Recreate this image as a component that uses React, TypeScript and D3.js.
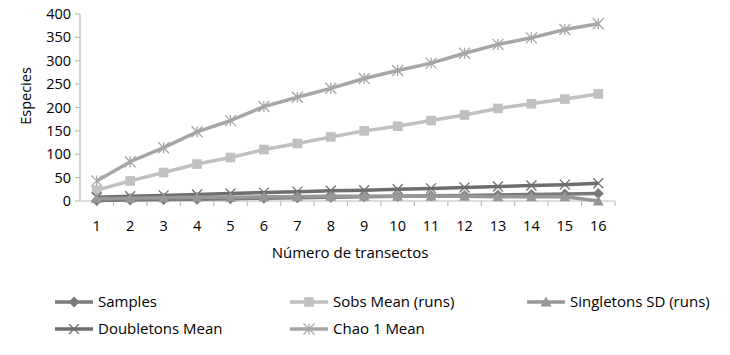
import React from "react";
import * as d3 from "d3";

const categories = ["1","2","3","4","5","6","7","8","9","10","11","12","13","14","15","16"];
const samples = [1,2,3,4,5,6,7,8,9,10,11,12,13,14,15,16];
const sobsMean = [23,43,61,79,93,110,123,137,150,160,172,184,198,208,218,229];
const singletonsSD = [5,6,7,8,8,9,9,10,10,10,10,10,9,9,9,0];
const doubletonsMean = [8,10,12,14,16,18,20,22,23,25,27,29,31,33,35,38];
const chao1Mean = [43,84,114,148,172,202,222,241,262,279,295,316,335,349,367,379];
const yTicks = [0,50,100,150,200,250,300,350,400];

type Series = { name: string; values: number[]; color: string; marker: string };
const series: Series[] = [
  { name: "Samples", values: samples, color: "#7a7a7a", marker: "diamond" },
  { name: "Sobs Mean (runs)", values: sobsMean, color: "#c0c0c0", marker: "square" },
  { name: "Singletons SD (runs)", values: singletonsSD, color: "#979797", marker: "triangle" },
  { name: "Doubletons Mean", values: doubletonsMean, color: "#6e6e6e", marker: "x" },
  { name: "Chao 1 Mean", values: chao1Mean, color: "#a6a6a6", marker: "star" },
];

const font = "'Open Sans', 'DejaVu Sans', sans-serif";

function Marker({ type, x, y, color }: { type: string; x: number; y: number; color: string }) {
  if (type === "diamond") {
    const s = 5.5;
    return <path d={`M${x},${y - s}L${x + s},${y}L${x},${y + s}L${x - s},${y}Z`} fill={color} />;
  }
  if (type === "square") {
    const s = 4.8;
    return <rect x={x - s} y={y - s} width={2 * s} height={2 * s} fill={color} />;
  }
  if (type === "triangle") {
    const s = 5.5;
    return <path d={`M${x},${y - s}L${x + s},${y + s * 0.8}L${x - s},${y + s * 0.8}Z`} fill={color} />;
  }
  if (type === "x") {
    const s = 5;
    return <path d={`M${x - s},${y - s}L${x + s},${y + s}M${x - s},${y + s}L${x + s},${y - s}`} stroke={color} strokeWidth={1.3} fill="none" />;
  }
  const s = 5.5;
  return (
    <path
      d={`M${x - s},${y - s}L${x + s},${y + s}M${x - s},${y + s}L${x + s},${y - s}M${x},${y - s}L${x},${y + s}`}
      stroke={color}
      strokeWidth={1.3}
      fill="none"
    />
  );
}

export default function App() {
  const W = 730, H = 355;
  const x0 = 80, x1 = 615;
  const x = d3.scaleBand<string>().domain(categories).range([x0, x1]);
  const y = d3.scaleLinear().domain([0, 400]).range([201, 14]);
  const cx = (c: string) => (x(c) as number) + x.bandwidth() / 2;
  const line = d3.line<number>().x((_, i) => cx(categories[i])).y((v) => y(v));

  const legend = [
    { s: series[0], lx: 55, ly: 302 },
    { s: series[1], lx: 290, ly: 302 },
    { s: series[2], lx: 527, ly: 302 },
    { s: series[3], lx: 55, ly: 329 },
    { s: series[4], lx: 290, ly: 329 },
  ];
  const drawOrder = [series[4], series[1], series[3], series[0], series[2]];

  return (
    <svg width={W} height={H} style={{ position: "absolute", left: 0, top: 0, background: "#fff" }} fontFamily={font}>
      {/* y axis */}
      <line x1={x0} x2={x0} y1={y(400)} y2={y(0)} stroke="#bdbdbd" strokeWidth={1.2} />
      {yTicks.map((t) => (
        <g key={t}>
          <line x1={x0 - 5} x2={x0} y1={y(t)} y2={y(t)} stroke="#bdbdbd" strokeWidth={1.2} />
          <text x={x0 - 9} y={y(t)} dy="0.35em" textAnchor="end" fontSize={14.5} fill="#000">{t}</text>
        </g>
      ))}
      {/* x axis */}
      <line x1={x0} x2={x1} y1={y(0)} y2={y(0)} stroke="#bdbdbd" strokeWidth={1.2} />
      {categories.map((c) => (
        <line key={"t" + c} x1={(x(c) as number) + x.bandwidth()} x2={(x(c) as number) + x.bandwidth()} y1={y(0)} y2={y(0) + 5} stroke="#bdbdbd" strokeWidth={1.2} />
      ))}
      {categories.map((c) => (
        <text key={"l" + c} x={cx(c)} y={230.5} textAnchor="middle" fontSize={14.5} fill="#000">{c}</text>
      ))}
      <text x={350} y={257.5} textAnchor="middle" fontSize={15} fill="#000">Número de transectos</text>
      <text transform={`translate(31,96) rotate(-90)`} textAnchor="middle" fontSize={14.5} fill="#000">Especies</text>

      {drawOrder.map((s) => (
        <g key={s.name}>
          <path d={line(s.values) || ""} fill="none" stroke={s.color} strokeWidth={3.5} />
          {s.values.map((v, i) => (
            <Marker key={i} type={s.marker} x={cx(categories[i])} y={y(v)} color={s.color} />
          ))}
        </g>
      ))}

      {legend.map(({ s, lx, ly }) => (
        <g key={"lg" + s.name}>
          <line x1={lx} x2={lx + 38} y1={ly} y2={ly} stroke={s.color} strokeWidth={3.5} />
          <Marker type={s.marker} x={lx + 19} y={ly} color={s.color} />
          <text x={lx + 43} y={ly} dy="0.35em" fontSize={15} fill="#000">{s.name}</text>
        </g>
      ))}
    </svg>
  );
}
